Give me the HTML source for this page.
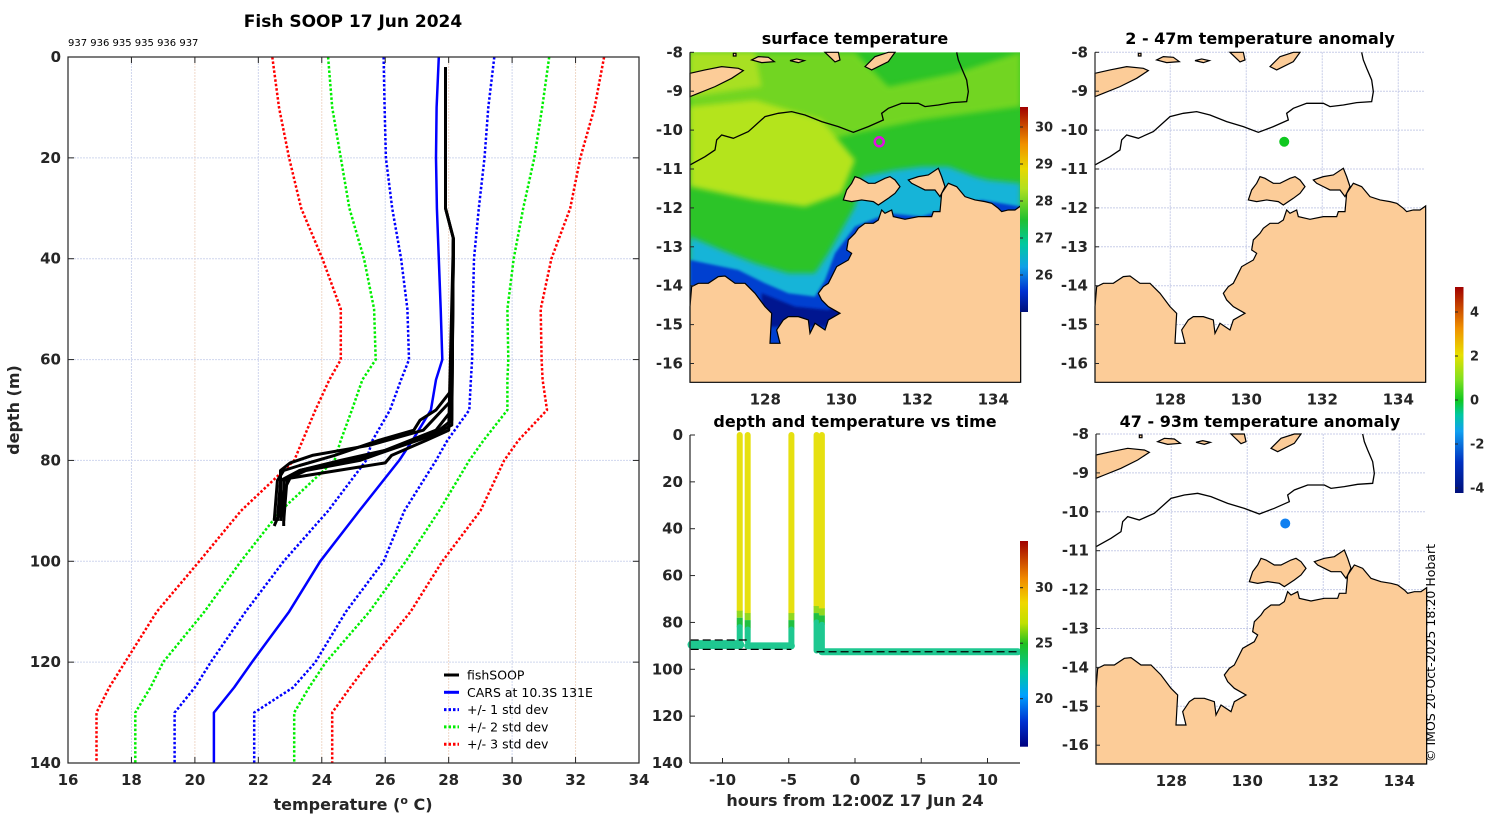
<!DOCTYPE html>
<html><head><meta charset="utf-8"><style>
html,body{margin:0;padding:0;background:#fff;}
svg{display:block;font-family:"DejaVu Sans","Liberation Sans",sans-serif;}
.tk{font-weight:bold;font-size:15px;fill:#262626;}
.ttl{font-weight:bold;font-size:16px;fill:#000;}
</style></head><body>
<svg id="fig" width="1500" height="820" viewBox="0 0 1500 820" xmlns="http://www.w3.org/2000/svg">
<defs>
<filter id="blur8" x="-20%" y="-20%" width="140%" height="140%"><feGaussianBlur stdDeviation="8"/></filter>
<filter id="blur4" x="-20%" y="-20%" width="140%" height="140%"><feGaussianBlur stdDeviation="4"/></filter>
<clipPath id="clipSST"><rect x="690" y="52.3" width="330" height="330"/></clipPath>
<linearGradient id="sstBar" x1="0" y1="1" x2="0" y2="0">
<stop offset="0" stop-color="#00107a"/><stop offset="0.1" stop-color="#0030d0"/><stop offset="0.22" stop-color="#10a0e8"/><stop offset="0.33" stop-color="#00c8a0"/><stop offset="0.45" stop-color="#20c030"/><stop offset="0.6" stop-color="#b0e020"/><stop offset="0.7" stop-color="#e8d800"/><stop offset="0.82" stop-color="#f09000"/><stop offset="1" stop-color="#a00000"/>
</linearGradient>
<linearGradient id="timeBar" x1="0" y1="1" x2="0" y2="0">
<stop offset="0" stop-color="#00007f"/><stop offset="0.12" stop-color="#0030d0"/><stop offset="0.25" stop-color="#00a0ff"/><stop offset="0.36" stop-color="#00c8a0"/><stop offset="0.5" stop-color="#20c020"/><stop offset="0.6" stop-color="#c0e000"/><stop offset="0.7" stop-color="#f0d800"/><stop offset="0.82" stop-color="#f08800"/><stop offset="1" stop-color="#a00000"/>
</linearGradient>
<linearGradient id="anomBar" x1="0" y1="1" x2="0" y2="0">
<stop offset="0" stop-color="#00107a"/><stop offset="0.15" stop-color="#0030c0"/><stop offset="0.3" stop-color="#10a0f0"/><stop offset="0.38" stop-color="#00c8a0"/><stop offset="0.45" stop-color="#10c820"/><stop offset="0.55" stop-color="#80e020"/><stop offset="0.67" stop-color="#e8e000"/><stop offset="0.8" stop-color="#f09000"/><stop offset="1" stop-color="#a00000"/>
</linearGradient>
</defs>
<g id="root"></g>
</svg>
<script>
// ---------- Profile chart data ----------
const depthLevels = [0,10,20,30,40,50,60,64,70,76,80,90,100,110,120,125,130,140];
const carsMean = [27.69,27.62,27.6,27.63,27.69,27.75,27.8,27.6,27.44,26.86,26.44,25.18,23.95,22.97,21.8,21.24,20.6,20.6];
const plus1 = [29.44,29.25,29.13,28.95,28.8,28.76,28.74,28.7,28.65,27.96,27.6,26.6,25.95,24.76,23.8,23.1,21.87,21.87];
const minus1 = [25.95,25.98,26.02,26.22,26.5,26.7,26.75,26.5,26.15,25.6,25.4,24.2,22.8,21.6,20.5,20.0,19.36,19.36];
const plus2 = [31.17,30.95,30.7,30.35,30.05,29.85,29.88,29.85,29.85,29.1,28.65,27.7,26.65,25.5,24.13,23.6,23.13,23.13];
const minus2 = [24.2,24.33,24.6,24.87,25.33,25.65,25.7,25.28,24.95,24.6,24.4,22.7,21.45,20.3,19.0,18.6,18.12,18.12];
const plus3 = [32.9,32.6,32.15,31.83,31.24,30.9,30.93,30.96,31.1,30.2,29.75,29.0,27.8,26.8,25.5,24.9,24.33,24.33];
const minus3 = [22.44,22.65,22.97,23.35,24.02,24.6,24.6,24.24,23.8,23.4,23.13,21.45,20.14,18.8,17.8,17.3,16.9,16.9];
const soopDepthsA = [2,30,36,66,70,72,74,76,79,81,82,84,92];
const soopTempsA  = [27.9,27.9,28.15,28.1,27.6,27.1,26.9,25.8,24.4,23.3,22.8,22.6,22.5];
const soopDepthsB = [2,30,36,68,74,77,79,80.5,82,90,93];
const soopTempsB  = [27.9,27.9,28.15,28.1,27.2,25.5,23.7,23.0,22.7,22.7,22.5];
const soopDepthsC = [36,72,74,77,79,81,82,84,92];
const soopTempsC  = [28.15,28.1,27.7,26.5,25.5,24.0,23.3,22.9,22.8];
const soopDepthsD = [36,73,75,78,80,82,84,88,93];
const soopTempsD  = [28.15,28.1,27.5,26.1,25.2,23.5,22.8,22.8,22.8];
const soopDepthsE = [36,74,76,79,80.5,82,83.5,86,92];
const soopTempsE  = [28.15,28.0,27.3,26.2,26.0,24.5,23.0,22.8,22.7];
const soopDepthsF = [36,70,74,78,80,82,84,92];
const soopTempsF  = [28.15,28.1,27.6,26.0,24.6,23.3,22.7,22.6];
const tempTicks = [16,18,20,22,24,26,28,30,32,34];
const depthTicks = [0,20,40,60,80,100,120,140];
// ---------- Time chart data ----------
const castHours = [-8.7,-8.1,-4.8,-2.9,-2.5];
const castBottom = [88,88,90,92,91];
const castThermo = [78,79,79,76,77];
const towStart = [-12.3,-8.1,-2.5];
const towEnd = [-8.7,-4.8,12.3];
const towDepth = [89.5,90,92.5];
const bottomStart = [-12.4,-12.4,-2.9];
const bottomEnd = [-8.1,-4.8,12.4];
const bottomDepth = [87.5,91.5,92.5];
const upperTemp = 28.2, lowerTemp = 22.6;
const hourTicks = [-10,-5,0,5,10];
const timeDepthTicks = [0,20,40,60,80,100,120,140];
const timeCbTicks = [30,25,20];
// ---------- Map data ----------
const latTicks = [-8,-9,-10,-11,-12,-13,-14,-15,-16];
const lonTicks = [128,130,132,134];
const sstTicks = [30,29,28,27,26];
const anomTicks = [4,2,0,-2,-4];
const stationLon = [131.0];
const stationLat = [-10.3];
const anomShallow = [0.3];
const anomDeep = [-1.8];

const NS='http://www.w3.org/2000/svg';
const root=document.getElementById('root');
function mk(tag,attrs,parent){const e=document.createElementNS(NS,tag);for(const k in attrs)e.setAttribute(k,attrs[k]);(parent||root).appendChild(e);return e;}
function txt(s,x,y,cls,anchor,parent){const t=mk('text',{x:x,y:y,class:cls,'text-anchor':anchor||'middle'},parent);t.textContent=s;return t;}

// ===== Panel 1: profile =====
const PX0=68,PX1=639,PY0=57,PY1=763;
const xT=t=>PX0+(t-16)/(34-16)*(PX1-PX0);
const yD=d=>PY0+d/140*(PY1-PY0);
const g1=mk('g',{});


tempTicks.forEach(t=>{if(t>16&&t<34){const l=mk('line',{x1:xT(t),x2:xT(t),y1:PY0,y2:PY1,stroke:(t%4===0?'#f0d8c8':'#cfd6ee'),'stroke-width':1,'stroke-dasharray':'2,1'},g1);}});
depthTicks.forEach(d=>{if(d>0&&d<140){const l=mk('line',{x1:PX0,x2:PX1,y1:yD(d),y2:yD(d),stroke:'#cfd6ee','stroke-width':1,'stroke-dasharray':'2,1'},g1);}});
function prof(depths,temps,color,w,dash,name){
  const pts=depths.map((d,i)=>xT(temps[i]).toFixed(1)+','+yD(d).toFixed(1)).join(' ');
  const p=mk('polyline',{points:pts,fill:'none',stroke:color,'stroke-width':w,'stroke-linejoin':'round'},g1);
  if(dash)p.setAttribute('stroke-dasharray',dash);
  
  
}
prof(depthLevels,minus3,'#ff0000',2.5,'2.5,2','minus-3-std-line');
prof(depthLevels,plus3,'#ff0000',2.5,'2.5,2','plus-3-std-line');
prof(depthLevels,minus2,'#00ee00',2.5,'2.5,2','minus-2-std-line');
prof(depthLevels,plus2,'#00ee00',2.5,'2.5,2','plus-2-std-line');
prof(depthLevels,minus1,'#0000ff',2.5,'2.5,2','minus-1-std-line');
prof(depthLevels,plus1,'#0000ff',2.5,'2.5,2','plus-1-std-line');
prof(depthLevels,carsMean,'#0000ff',2.5,null,'cars-mean-line');
[[soopDepthsA,soopTempsA],[soopDepthsB,soopTempsB],[soopDepthsC,soopTempsC],[soopDepthsD,soopTempsD],[soopDepthsE,soopTempsE],[soopDepthsF,soopTempsF]].forEach(a=>prof(a[0],a[1],'#000',3,null,'fishsoop-profile'));
const box1=mk('rect',{x:PX0,y:PY0,width:PX1-PX0,height:PY1-PY0,fill:'none',stroke:'#262626','stroke-width':1.2},g1);


tempTicks.forEach(t=>{const x=xT(t);mk('line',{x1:x,x2:x,y1:PY1,y2:PY1-6,stroke:'#262626'},g1);mk('line',{x1:x,x2:x,y1:PY0,y2:PY0+6,stroke:'#262626'},g1);const l=txt(t,x,785,'tk','middle',g1);});
depthTicks.forEach(d=>{const y=yD(d);mk('line',{x1:PX0,x2:PX0+6,y1:y,y2:y,stroke:'#262626'},g1);mk('line',{x1:PX1,x2:PX1-6,y1:y,y2:y,stroke:'#262626'},g1);const l=txt(d,61,y+5,'tk','end',g1);});
// legend
const legItems=[['fishSOOP','#000',null],['CARS at 10.3S 131E','#0000ff',null],['+/- 1 std dev','#0000ff','2.5,2'],['+/- 2 std dev','#00ee00','2.5,2'],['+/- 3 std dev','#ff0000','2.5,2']];
legItems.forEach((it,i)=>{const y=675+i*17.3;const l=mk('line',{x1:444,x2:459,y1:y,y2:y,stroke:it[1],'stroke-width':3},g1);if(it[2])l.setAttribute('stroke-dasharray',it[2]);const t=mk('text',{x:467,y:y+4.5,'font-size':'12.5','fill':'#000'},g1);t.textContent=it[0];});

// ===== Panel: time =====
const TX0=690,TX1=1020,TY0=435,TY1=763;
const xH=h=>855+h*13.25;
const yTD=d=>TY0+d/140*(TY1-TY0);
const g3=mk('g',{});


const yellow='#e6e010',teal='#1ec890';
castHours.forEach((h,i)=>{
  const x=xH(h);
  const a=mk('line',{x1:x,x2:x,y1:yTD(0),y2:yTD(castThermo[i]-3),stroke:yellow,'stroke-width':6,'stroke-linecap':'round'},g3);
  
  const b=mk('line',{x1:x,x2:x,y1:yTD(castThermo[i]-3),y2:yTD(castThermo[i]),stroke:'#90d820','stroke-width':6},g3);
  
  const c=mk('line',{x1:x,x2:x,y1:yTD(castThermo[i]),y2:yTD(castThermo[i]+4),stroke:'#20c040','stroke-width':6},g3);
  
  const d=mk('line',{x1:x,x2:x,y1:yTD(castThermo[i]+4),y2:yTD(castBottom[i]),stroke:teal,'stroke-width':6,'stroke-linecap':'round'},g3);
  
});
towStart.forEach((s,i)=>{const l=mk('line',{x1:xH(s),x2:xH(towEnd[i]),y1:yTD(towDepth[i]),y2:yTD(towDepth[i]),stroke:teal,'stroke-width':i===0?9:7,'stroke-linecap':'round'},g3);});
bottomStart.forEach((s,i)=>{const l=mk('line',{x1:xH(s),x2:xH(bottomEnd[i]),y1:yTD(bottomDepth[i]),y2:yTD(bottomDepth[i]),stroke:'#000','stroke-width':1.3,'stroke-dasharray':'8,4'},g3);});
mk('line',{x1:TX0,x2:TX0,y1:TY0,y2:TY1,stroke:'#262626','stroke-width':1.2},g3);
mk('line',{x1:TX0,x2:TX1,y1:TY1,y2:TY1,stroke:'#262626','stroke-width':1.2},g3);
hourTicks.forEach(h=>{const x=xH(h);mk('line',{x1:x,x2:x,y1:TY1,y2:TY1-5,stroke:'#262626'},g3);const l=txt(h,x,785,'tk','middle',g3);});
timeDepthTicks.forEach(d=>{const y=yTD(d);mk('line',{x1:TX0,x2:TX0+5,y1:y,y2:y,stroke:'#262626'},g3);const l=txt(d,683,y+5,'tk','end',g3);});
const tcb=mk('rect',{x:1020,y:541,width:8,height:205.7,fill:'url(#timeBar)'},g3);

timeCbTicks.forEach(v=>{const y=587.7+(30-v)*11.1;mk('line',{x1:1020,x2:1023,y1:y,y2:y,stroke:'#262626'},g3);const l=mk('text',{x:1035,y:y+4.5,'font-size':'13','font-weight':'bold',fill:'#262626'},g3);l.textContent=v;});

// ===== Maps =====
const mainland="105,860 110,800 130,790 160,790 190,770 210,768 240,790 270,790 300,820 330,860 350,880 345,970 375,970 365,930 385,900 400,890 430,890 460,900 465,940 480,910 510,930 520,900 555,880 520,860 500,840 490,820 505,800 520,790 535,760 545,740 580,720 590,700 575,690 580,660 600,640 610,625 630,610 655,610 670,600 680,570 690,580 710,570 715,590 750,598 790,590 830,590 835,575 855,575 860,520 880,490 905,500 930,530 960,540 990,545 1010,550 1030,565 1040,575 1060,570 1080,570 1097,558 1097,1087 105,1087";
const melville="565,540 575,510 590,490 600,470 615,475 640,490 660,490 690,475 705,470 720,480 735,500 720,520 700,535 670,555 655,545 620,540 590,545";
const cobourg="760,480 790,470 820,465 850,445 860,470 870,500 855,530 840,510 810,510 790,500 770,490";
const timor="105,160 150,150 200,140 250,145 265,152 230,175 180,200 130,220 105,230";
const islands=["290,120 310,110 340,112 358,125 320,128","405,122 425,117 448,122 430,128","630,140 660,110 700,97 720,97 700,125 650,150","510,97 550,97 555,120 540,126","235,100 243,100 243,108 235,108"];
const contour="105,435 150,410 180,390 185,360 200,345 235,355 280,335 330,290 370,280 410,275 450,285 500,305 550,320 595,337 640,320 685,300 680,280 700,265 740,250 790,250 810,260 850,255 890,248 935,245 940,215 935,180 920,145 910,120 905,97";
const LAND='#fccc98';
function lonX(X0,lon){return X0+(lon-126.02)*38;}
function latY(Y0,lat){return Y0+(-8-lat)*38.9;}
function drawMap(X0,Y0,name,grid,sst){
  const g=mk('g',{});
  
  
  const s=1/3;
  if(sst){
    const f=mk('g',{'clip-path':'url(#clipSST)'},g);
    const fm=mk('g',{transform:`translate(${X0-105*s},${Y0-97*s}) scale(${s})`},f);
    mk('rect',{x:105,y:97,width:992,height:990,fill:'#2cc428'},fm);
    mk('polygon',{points:'105,97 600,97 700,200 900,160 1097,97 1097,260 800,300 600,340 520,360 105,330',fill:'#7ad822',filter:'url(#blur8)',opacity:0.9},fm);
    mk('polygon',{points:'105,260 300,240 500,300 600,420 560,520 450,560 300,540 200,520 105,500',fill:'#b4e41c',filter:'url(#blur8)'},fm);
    mk('polygon',{points:'105,97 300,97 320,200 105,230',fill:'#a8e020',filter:'url(#blur8)'},fm);
    mk('polygon',{points:'105,650 200,690 300,730 400,760 480,760 520,700 560,630 600,560 620,470 720,450 800,440 880,440 960,470 1000,480 1097,490 1097,1087 105,1087',fill:'#18b4d8',filter:'url(#blur8)'},fm);
    mk('polygon',{points:'105,720 250,750 330,790 400,820 480,830 510,780 540,700 600,620 700,580 800,590 900,560 980,540 1097,560 1097,1087 105,1087',fill:'#0040d0',filter:'url(#blur4)'},fm);
    mk('polygon',{points:'320,820 420,860 520,870 560,850 560,920 320,920',fill:'#001490',filter:'url(#blur4)'},fm);
  }
  if(grid){
    lonTicks.forEach(lo=>{const x=lonX(X0,lo);mk('line',{x1:x,x2:x,y1:Y0,y2:Y0+330,stroke:'#c8cde8','stroke-dasharray':'2,1'},g);});
    latTicks.forEach(la=>{const y=latY(Y0,la);mk('line',{x1:X0,x2:X0+330,y1:y,y2:y,stroke:'#c8cde8','stroke-dasharray':'2,1'},g);});
  }
  const m=mk('g',{transform:`translate(${X0-105*s},${Y0-97*s}) scale(${s})`},g);
  const land=[mainland,melville,cobourg,timor].concat(islands);
  land.forEach((p,i)=>{const e=mk('polygon',{points:p,fill:LAND,stroke:'#000','stroke-width':1.2,'vector-effect':'non-scaling-stroke'},m);});
  const c=mk('polyline',{points:contour,fill:'none',stroke:'#000','stroke-width':1.3,'vector-effect':'non-scaling-stroke'},m);
  
  mk('line',{x1:X0,x2:X0,y1:Y0,y2:Y0+330,stroke:'#262626','stroke-width':1.2},g);
  latTicks.forEach(la=>{const y=latY(Y0,la);mk('line',{x1:X0,x2:X0+4,y1:y,y2:y,stroke:'#262626'},g);const l=txt(la,X0-7,y+5,'tk','end',g);});
  lonTicks.forEach(lo=>{const x=lonX(X0,lo);const l=txt(lo,x,Y0+352,'tk','middle',g);});
  return g;
}
function anomColor(v){const stops=[[-4,'#00107a'],[-2,'#1080f0'],[-1,'#00c8a0'],[0,'#10c820'],[2,'#e8e000'],[4,'#e06000']];for(let i=stops.length-1;i>=0;i--)if(v>=stops[i][0])return stops[i][1];return stops[0][1];}
const gm2=drawMap(690,52.3,'surface-temperature-map',false,true);
stationLon.forEach((lo,i)=>{const c=mk('circle',{cx:lonX(690,lo),cy:latY(52.3,stationLat[i]),r:4.5,fill:'none',stroke:'#e010e0','stroke-width':2.5},gm2);});
const scb=mk('rect',{x:1020,y:107,width:8,height:205,fill:'url(#sstBar)'},gm2);

sstTicks.forEach(v=>{const y=127+(30-v)*37;mk('line',{x1:1020,x2:1023,y1:y,y2:y,stroke:'#262626'},gm2);const l=mk('text',{x:1035,y:y+4.5,'font-size':'13','font-weight':'bold',fill:'#262626'},gm2);l.textContent=v;});
const gm3=drawMap(1095,52.3,'shallow-anomaly-map',true,false);
stationLon.forEach((lo,i)=>{const c=mk('circle',{cx:lonX(1095,lo),cy:latY(52.3,stationLat[i]),r:5,fill:anomColor(anomShallow[i])},gm3);});
const gm4=drawMap(1096,434,'deep-anomaly-map',true,false);
stationLon.forEach((lo,i)=>{const c=mk('circle',{cx:lonX(1096,lo),cy:latY(434,stationLat[i]),r:5,fill:anomColor(anomDeep[i])},gm4);});
const acb=mk('rect',{x:1455,y:287,width:8.5,height:206,fill:'url(#anomBar)'},root);

anomTicks.forEach(v=>{const y=400-v*22;mk('line',{x1:1455,x2:1458,y1:y,y2:y,stroke:'#262626'});const l=mk('text',{x:1470,y:y+4.5,'font-size':'13','font-weight':'bold',fill:'#262626'});l.textContent=v;});

// ===== Titles and labels =====
function lab(s,x,y,size,name,rot){const t=mk('text',{x:x,y:y,'text-anchor':'middle','font-size':size,'font-weight':'bold',fill:'#000'});if(rot)t.setAttribute('transform',`rotate(-90 ${x} ${y})`);t.textContent=s;return t;}
lab('Fish SOOP 17 Jun 2024',353,27,17,'main-title');
const ids=mk('text',{x:68,y:46,'font-size':'10',fill:'#000'});ids.textContent='937 936 935 935 936 937';

lab('depth (m)',19,410,16,'y-axis-title',true).setAttribute('fill','#262626');
const xt=mk('text',{x:353,y:810,'text-anchor':'middle','font-size':16,'font-weight':'bold',fill:'#262626'});
xt.innerHTML='temperature (<tspan dy="-6" font-size="11">o</tspan><tspan dy="6"> C)</tspan>';

lab('surface temperature',855,44,16,'sst-map-title');
lab('2 - 47m temperature anomaly',1260,44,16,'shallow-map-title');
lab('depth and temperature vs time',855,427,16,'time-chart-title');
lab('47 - 93m temperature anomaly',1260,427,16,'deep-map-title');
const ht=lab('hours from 12:00Z 17 Jun 24',855,806,16,'time-x-axis-title');ht.setAttribute('fill','#262626');
const cp=mk('text',{x:1435,y:762,'font-size':'12.5',fill:'#000','transform':'rotate(-90 1435 762)'});
cp.textContent='© IMOS 20-Oct-2025 18:20 Hobart';

</script>
</body></html>
